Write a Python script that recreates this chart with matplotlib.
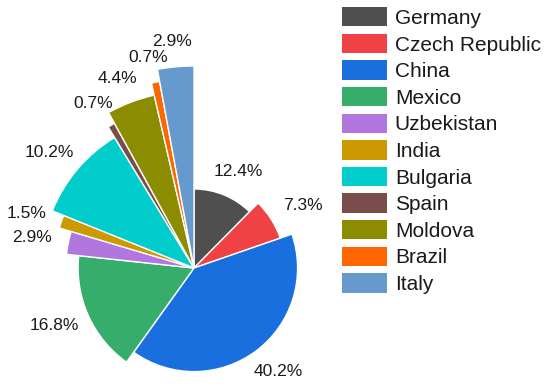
import numpy as np
import matplotlib
matplotlib.use("Agg")
import matplotlib.pyplot as plt
from matplotlib.patches import Wedge, Patch

countries = ["Germany", "Czech Republic", "China", "Mexico", "Uzbekistan", "India",
             "Bulgaria", "Spain", "Moldova", "Brazil", "Italy"]
shares = [12.4, 7.3, 40.2, 16.8, 2.9, 1.5, 10.2, 0.7, 4.4, 0.7, 2.9]
colors = ["#4f4f4f", "#f04144", "#1a6fdf", "#37ad6b", "#b177de", "#cc9900",
          "#00cccc", "#7a4d4d", "#8c8c00", "#ff6600", "#6699cc"]

plt.rcParams['font.family'] = ['Liberation Sans', 'DejaVu Sans']

fig = plt.figure(figsize=(5.5, 3.88), dpi=100)
ax = fig.add_axes([0, 0, 1, 1])
# axes units = pixels, pie centre at origin
ax.set_xlim(-194, 356)
ax.set_ylim(-120, 268)
ax.set_aspect('equal')
ax.axis('off')

r0, step = 79.0, 12.3
start = 90.0
vals = np.array(shares)
angles = vals / vals.sum() * 360.0
for i, (v, a, c) in enumerate(zip(shares, angles, colors)):
    r = r0 + step * i
    t1 = start
    t2 = start - a
    ax.add_patch(Wedge((0, 0), r, t2, t1, facecolor=c, edgecolor='white', linewidth=1.0))
    mid = np.deg2rad((t1 + t2) / 2)
    R = r + 25
    x = R * np.cos(mid) + 12 * np.cos(mid)
    y = R * np.sin(mid)
    ax.text(x, y, f"{v:.1f}%", ha='center', va='center', fontsize=12.5, color='#1a1a1a')
    start = t2

handles = [Patch(facecolor=c, edgecolor='none') for c in colors]
leg = fig.legend(handles, countries, loc='upper left', bbox_to_anchor=(338 / 550, 1 - 3 / 388),
                 frameon=False, fontsize=15, handlelength=2.15, handleheight=1.05,
                 handletextpad=0.38, labelspacing=0.28, borderaxespad=0, borderpad=0.2)
for t in leg.get_texts():
    t.set_color('#1a1a1a')

fig.savefig("out.png", dpi=100)
